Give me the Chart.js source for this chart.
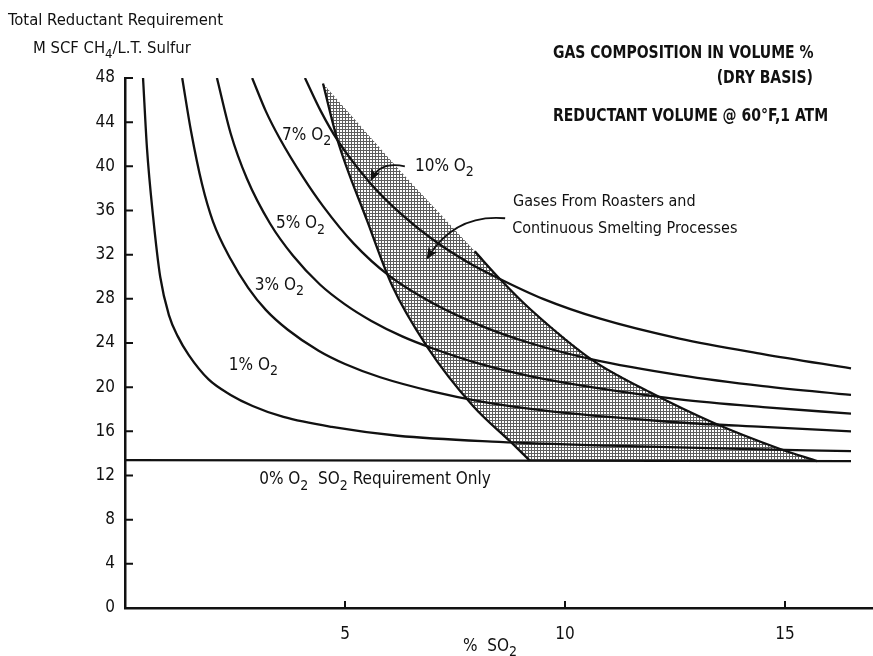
<!DOCTYPE html>
<html>
<head>
<meta charset="utf-8">
<script src="https://cdn.jsdelivr.net/npm/chart.js@4.4.1/dist/chart.umd.min.js"></script>
<style>
  html, body { margin: 0; padding: 0; background: #fff; }
</style>
</head>
<body>
<canvas id="so2Chart" width="873" height="656"></canvas>
<script>
// % SO2 (x) vs total reductant requirement, M SCF CH4 / L.T. sulfur (y)
const o2_1x = [0.41, 0.5, 0.64, 0.8, 1.0, 1.2, 1.45, 1.9, 2.4, 2.9, 3.6, 4.7, 6.2, 8.5, 11.0, 13.5, 16.5];
const o2_1y = [48.0, 41.6, 35.4, 30.0, 26.5, 24.6, 22.9, 20.7, 19.3, 18.3, 17.3, 16.4, 15.6, 15.05, 14.7, 14.45, 14.2];

const o2_3x = [1.3, 1.5, 1.75, 2.0, 2.4, 2.8, 3.2, 3.7, 4.4, 5.0, 5.8, 7.0, 8.1, 9.5, 11.0, 12.6, 14.5, 16.5];
const o2_3y = [48.0, 43.2, 38.4, 35.0, 31.6, 29.0, 27.0, 25.2, 23.3, 22.1, 20.9, 19.6, 18.7, 17.9, 17.3, 16.8, 16.4, 16.0];

const o2_5x = [2.09, 2.4, 2.77, 3.3, 3.82, 4.43, 5.0, 5.6, 6.3, 7.0, 8.07, 9.2, 10.6, 12.6, 14.5, 16.5];
const o2_5y = [48.0, 43.0, 38.9, 34.8, 31.9, 29.3, 27.5, 26.0, 24.6, 23.5, 22.1, 21.0, 20.0, 18.9, 18.2, 17.6];

const o2_7x = [2.89, 3.2, 3.52, 4.05, 4.5, 5.2, 6.0, 7.0, 8.07, 9.2, 10.64, 12.6, 14.5, 16.5];
const o2_7y = [48.0, 45.0, 42.5, 39.0, 36.4, 33.0, 30.1, 27.6, 25.6, 24.0, 22.5, 21.1, 20.1, 19.3];

const o2_10x = [4.09, 4.45, 4.84, 5.57, 6.3, 7.09, 7.8, 8.52, 9.5, 10.8, 12.6, 14.5, 16.5];
const o2_10y = [48.0, 45.0, 42.3, 38.5, 35.6, 33.1, 31.3, 29.8, 28.0, 26.2, 24.4, 23.0, 21.7];

// 0% O2 - SO2 requirement only
const o2_0x = [0, 16.5];
const o2_0y = [13.4, 13.3];

// shaded band: gases from roasters and continuous smelting
const bandTopX = [4.5, 6.25];            // upper edge, no outline
const bandTopY = [47.5, 39.6];
const bandRightX = [7.95, 8.52, 9.2, 10.64, 12.0, 13.36, 14.89, 15.73];
const bandRightY = [32.3, 29.8, 27.1, 22.4, 19.4, 16.8, 14.4, 13.3];
const bandLeftX = [4.5, 4.82, 5.5, 6.07, 6.86, 7.91, 8.75, 9.2];
const bandLeftY = [47.5, 42.5, 35.1, 29.2, 23.7, 18.3, 15.1, 13.35];

const xTicks = [5, 10, 15];
const yMax = 48;

const FONT = "'Liberation Sans Narrow', 'DejaVu Sans Condensed', sans-serif";
const INK = "#111";

function pts(xs, ys) {
  return xs.map((x, i) => ({ x: x, y: ys[i] }));
}

function curve(xs, ys) {
  return {
    data: pts(xs, ys),
    showLine: true,
    borderColor: INK,
    borderWidth: 2.3,
    pointRadius: 0,
    cubicInterpolationMode: "monotone",
    fill: false,
    order: 0,
  };
}

// text drawn with optional subscripts: plain strings, or {sub: "2"}
function richText(ctx, parts, x, y, size, weight) {
  let cx = x;
  parts.forEach((p) => {
    const sub = typeof p === "object";
    const s = sub ? p.sub : p;
    ctx.font = weight + " " + (sub ? Math.round(size * 0.8) : size) + "px " + FONT;
    ctx.fillText(s, cx, sub ? y + size * 0.32 : y);
    cx += ctx.measureText(s).width;
  });
}

// narrow bold heading, squeezed to the width of the original lettering
function heading(ctx, text, x, y, align) {
  ctx.save();
  ctx.translate(x, y);
  ctx.scale(0.865, 1);
  ctx.font = "bold 18px " + FONT;
  ctx.textAlign = align;
  ctx.fillText(text, 0, 0);
  ctx.restore();
}

// labels placed in data units
const notes = [
  { x: 3.57, y: 42.4, size: 17, parts: ["7% O", { sub: "2" }] },
  { x: 6.59, y: 39.6, size: 17, parts: ["10% O", { sub: "2" }] },
  { x: 3.43, y: 34.4, size: 17, parts: ["5% O", { sub: "2" }] },
  { x: 2.95, y: 28.8, size: 17, parts: ["3% O", { sub: "2" }] },
  { x: 2.36, y: 21.6, size: 17, parts: ["1% O", { sub: "2" }] },
  { x: 3.05, y: 11.2, size: 17, parts: ["0% O", { sub: "2" }, "  SO", { sub: "2" }, " Requirement Only"] },
  { x: 8.82, y: 36.45, size: 16, parts: ["Gases From Roasters and"] },
  { x: 8.8, y: 34.0, size: 16, parts: ["Continuous Smelting Processes"] },
];
const arrows = [
  { from: [6.36, 40.0], via: [5.8, 40.45], to: [5.61, 38.9] },
  { from: [8.64, 35.3], via: [7.5, 35.7], to: [6.89, 31.8] },
];

const notesPlugin = {
  id: "notes",
  afterDatasetsDraw(chart) {
    const c = chart.ctx;
    const xs = chart.scales.x;
    const ys = chart.scales.y;
    const area = chart.chartArea;
    const px = (p) => ({ x: xs.getPixelForValue(p[0]), y: ys.getPixelForValue(p[1]) });

    c.save();
    c.fillStyle = INK;
    c.strokeStyle = INK;
    c.textBaseline = "alphabetic";
    c.textAlign = "left";

    // inward tick marks
    c.lineWidth = 2;
    c.beginPath();
    ys.ticks.forEach((t) => {
      const y = ys.getPixelForValue(t.value);
      c.moveTo(area.left, y);
      c.lineTo(area.left + 8, y);
    });
    xTicks.forEach((v) => {
      const x = xs.getPixelForValue(v);
      c.moveTo(x, area.bottom);
      c.lineTo(x, area.bottom - 7);
    });
    c.stroke();

    notes.forEach((n) => {
      richText(c, n.parts, xs.getPixelForValue(n.x), ys.getPixelForValue(n.y), n.size, "normal");
    });

    c.lineWidth = 1.8;
    arrows.forEach((a) => {
      const p0 = px(a.from), p1 = px(a.via), p2 = px(a.to);
      c.beginPath();
      c.moveTo(p0.x, p0.y);
      c.quadraticCurveTo(p1.x, p1.y, p2.x, p2.y);
      c.stroke();
      const ang = Math.atan2(p2.y - p1.y, p2.x - p1.x);
      const ux = Math.cos(ang), uy = Math.sin(ang);
      c.beginPath();
      c.moveTo(p2.x + ux * 3, p2.y + uy * 3);
      c.lineTo(p2.x - ux * 9 - uy * 5, p2.y - uy * 9 + ux * 5);
      c.lineTo(p2.x - ux * 6, p2.y - uy * 6);
      c.lineTo(p2.x - ux * 9 + uy * 5, p2.y - uy * 9 - ux * 5);
      c.closePath();
      c.fill();
    });

    // axis titles and heading
    richText(c, ["Total Reductant Requirement"], 8, 25, 16.5, "normal");
    richText(c, ["M SCF CH", { sub: "4" }, "/L.T. Sulfur"], 33, 53, 16.5, "normal");
    richText(c, ["%  SO", { sub: "2" }], 463, 651, 17, "normal");

    heading(c, "GAS COMPOSITION IN VOLUME %", 553, 58, "left");
    heading(c, "(DRY BASIS)", 813, 83, "right");
    heading(c, "REDUCTANT VOLUME @ 60\u00b0F,1 ATM", 553, 121, "left");
    c.restore();
  },
};

document.addEventListener("DOMContentLoaded", function () {
  const ctx = document.getElementById("so2Chart").getContext("2d");

  // fine stipple for the shaded band
  const tile = document.createElement("canvas");
  tile.width = 3;
  tile.height = 3;
  const tg = tile.getContext("2d");
  tg.fillStyle = "#fff";
  tg.fillRect(0, 0, 3, 3);
  tg.fillStyle = "#5e5e5e";
  tg.fillRect(0, 0, 3, 1);
  tg.fillRect(0, 0, 1, 3);
  const stipple = ctx.createPattern(tile, "repeat");

  const bandX = bandTopX.concat(bandRightX, [...bandLeftX].reverse());
  const bandY = bandTopY.concat(bandRightY, [...bandLeftY].reverse());

  new Chart(ctx, {
    type: "scatter",
    data: {
      datasets: [
        curve(o2_0x, o2_0y),
        curve(o2_1x, o2_1y),
        curve(o2_3x, o2_3y),
        curve(o2_5x, o2_5y),
        curve(o2_7x, o2_7y),
        curve(o2_10x, o2_10y),
        curve(bandLeftX.slice().reverse(), bandLeftY.slice().reverse()),
        curve(bandRightX, bandRightY),
        {
          data: pts(bandX, bandY),
          showLine: true,
          borderColor: "rgba(0,0,0,0)",
          backgroundColor: stipple,
          pointRadius: 0,
          tension: 0,
          fill: "shape",
          order: 1,
        },
      ],
    },
    options: {
      responsive: false,
      animation: false,
      events: [],
      layout: { padding: { top: 78, right: 0, left: 0, bottom: 0 } },
      plugins: { legend: { display: false }, tooltip: { enabled: false } },
      scales: {
        x: {
          type: "linear",
          min: 0,
          max: 17,
          grid: { display: false, drawTicks: false },
          border: { color: INK, width: 2.5 },
          ticks: {
            stepSize: 5,
            includeBounds: false,
            padding: 16,
            color: INK,
            font: { family: FONT, size: 17 },
            callback: (v) => (v === 0 ? "" : v),
          },
          afterFit: (s) => { s.height = 48; },
        },
        y: {
          min: 0,
          max: yMax,
          grid: { display: false, drawTicks: false },
          border: { color: INK, width: 2.5 },
          ticks: {
            stepSize: 4,
            padding: 10,
            color: INK,
            font: { family: FONT, size: 17 },
          },
          afterFit: (s) => { s.width = 125; },
        },
      },
    },
    plugins: [notesPlugin],
  });
});
</script>
</body>
</html>
